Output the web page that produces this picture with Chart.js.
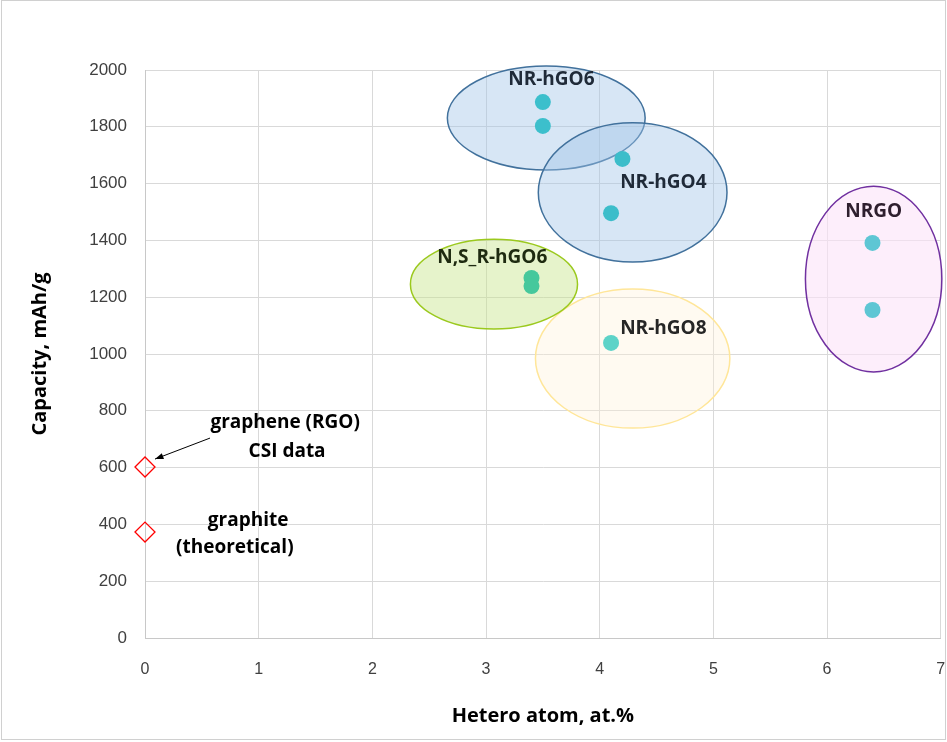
<!DOCTYPE html>
<html>
<head>
<meta charset="utf-8">
<script src="https://cdn.jsdelivr.net/npm/chart.js@4/dist/chart.umd.min.js"></script>
<style>
  html, body { margin: 0; padding: 0; background: #fff; overflow: hidden; }
  #wrap { width: 952px; height: 742px; position: relative; }
</style>
</head>
<body>
<div id="wrap"><canvas id="myChart"></canvas></div>
<script>
// hetero atom content (at.%) and capacity (mAh/g) per sample group
const hgo6X = [3.5, 3.5];
const hgo6Y = [1887, 1803];
const hgo4X = [4.2, 4.1];
const hgo4Y = [1687, 1496];
const nsX = [3.4, 3.4];
const nsY = [1268, 1239];
const hgo8X = [4.1];
const hgo8Y = [1039];
const nrgoX = [6.4, 6.4];
const nrgoY = [1391, 1155];
const refX = [0, 0];
const refY = [602, 373];

const xTicks = [0, 1, 2, 3, 4, 5, 6, 7];
const yTicks = [0, 200, 400, 600, 800, 1000, 1200, 1400, 1600, 1800, 2000];

// group ellipses: centre x, centre y, radius x, radius y (data units)
const ellipses = [
  { cx: 4.29, cy: 984, rx: 0.855, ry: 245, fill: 'rgba(255,242,214,0.35)', stroke: '#ffe699' },
  { cx: 3.07, cy: 1246, rx: 0.735, ry: 158, fill: 'rgba(200,228,140,0.45)', stroke: '#9bc91e' },
  { cx: 3.53, cy: 1831, rx: 0.87, ry: 183, fill: 'rgba(160,196,232,0.42)', stroke: '#41719c' },
  { cx: 4.29, cy: 1569, rx: 0.83, ry: 245, fill: 'rgba(160,196,232,0.42)', stroke: '#41719c' },
  { cx: 6.41, cy: 1264, rx: 0.60, ry: 327, fill: 'rgba(252,226,248,0.6)', stroke: '#7030a0' }
];

// text labels placed in data coordinates
const labels = [
  { text: 'NR-hGO6', x: 3.575, y: 1965, color: '#1f2a38' },
  { text: 'NR-hGO4', x: 4.56, y: 1602, color: '#1f2a38' },
  { text: 'N,S_R-hGO6', x: 3.055, y: 1338, color: '#1e2a10' },
  { text: 'NR-hGO8', x: 4.56, y: 1088, color: '#262626' },
  { text: 'NRGO', x: 6.41, y: 1503, color: '#2e1f2e' },
  { text: 'graphene (RGO)', x: 1.233, y: 757, color: '#000' },
  { text: 'CSI data', x: 1.25, y: 655, color: '#000' },
  { text: 'graphite', x: 0.907, y: 415, color: '#000' },
  { text: '(theoretical)', x: 0.79, y: 317, color: '#000' }
];
const arrowFrom = [0.572, 704];
const arrowTo = [0.088, 630];

const toPts = (xs, ys) => xs.map((x, i) => ({ x, y: ys[i] }));

const ellipsePlugin = {
  id: 'ellipses',
  beforeDatasetsDraw(chart) {
    const { ctx, scales: { x, y } } = chart;
    ctx.save();
    ellipses.forEach(e => {
      const cx = x.getPixelForValue(e.cx);
      const cy = y.getPixelForValue(e.cy);
      const rx = Math.abs(x.getPixelForValue(e.cx + e.rx) - cx);
      const ry = Math.abs(y.getPixelForValue(e.cy + e.ry) - cy);
      ctx.beginPath();
      ctx.ellipse(cx, cy, rx, ry, 0, 0, Math.PI * 2);
      ctx.fillStyle = e.fill;
      ctx.fill();
      ctx.lineWidth = 1.5;
      ctx.strokeStyle = e.stroke;
      ctx.stroke();
    });
    ctx.restore();
  },
  afterDatasetsDraw(chart) {
    const { ctx, scales: { x, y } } = chart;
    ctx.save();
    ctx.font = 'bold 19px "Open Sans", sans-serif';
    ctx.textAlign = 'center';
    ctx.textBaseline = 'middle';
    labels.forEach(l => {
      ctx.fillStyle = l.color;
      ctx.fillText(l.text, x.getPixelForValue(l.x), y.getPixelForValue(l.y));
    });
    // arrow
    const x1 = x.getPixelForValue(arrowFrom[0]), y1 = y.getPixelForValue(arrowFrom[1]);
    const x2 = x.getPixelForValue(arrowTo[0]), y2 = y.getPixelForValue(arrowTo[1]);
    ctx.strokeStyle = '#000';
    ctx.fillStyle = '#000';
    ctx.lineWidth = 1;
    ctx.beginPath();
    ctx.moveTo(x1, y1);
    ctx.lineTo(x2, y2);
    ctx.stroke();
    const a = Math.atan2(y2 - y1, x2 - x1);
    ctx.beginPath();
    ctx.moveTo(x2, y2);
    ctx.lineTo(x2 - 9 * Math.cos(a - 0.35), y2 - 9 * Math.sin(a - 0.35));
    ctx.lineTo(x2 - 9 * Math.cos(a + 0.35), y2 - 9 * Math.sin(a + 0.35));
    ctx.closePath();
    ctx.fill();
    ctx.restore();
  },
  afterDraw(chart) {
    const { ctx, height } = chart;
    ctx.save();
    ctx.strokeStyle = '#d0d0d0';
    ctx.lineWidth = 1;
    ctx.strokeRect(1.5, 0.5, 944, height - 3);
    ctx.restore();
  }
};

const ctx = document.getElementById('myChart');
new Chart(ctx, {
  type: 'scatter',
  data: {
    datasets: [
      { label: 'NR-hGO6', data: toPts(hgo6X, hgo6Y), backgroundColor: '#3cbfcc', borderWidth: 0, pointRadius: 8 },
      { label: 'NR-hGO4', data: toPts(hgo4X, hgo4Y), backgroundColor: '#3cbdca', borderWidth: 0, pointRadius: 8 },
      { label: 'N,S_R-hGO6', data: toPts(nsX, nsY), backgroundColor: '#46c89c', borderWidth: 0, pointRadius: 8 },
      { label: 'NR-hGO8', data: toPts(hgo8X, hgo8Y), backgroundColor: '#5dd3c8', borderWidth: 0, pointRadius: 8 },
      { label: 'NRGO', data: toPts(nrgoX, nrgoY), backgroundColor: '#5ec6d4', borderWidth: 0, pointRadius: 8 },
      { label: 'graphene / graphite', data: toPts(refX, refY), clip: false, pointStyle: 'rectRot', backgroundColor: 'rgba(255,255,255,0)', borderColor: '#ff0000', borderWidth: 1.3, pointRadius: 10 }
    ]
  },
  options: {
    responsive: true,
    maintainAspectRatio: false,
    animation: false,
    layout: { padding: { left: 24, top: 70, right: 0, bottom: 0 } },
    plugins: { legend: { display: false }, tooltip: { enabled: false } },
    scales: {
      x: {
        type: 'linear', min: 0, max: 7,
        afterFit: s => { s.height = 104; s.paddingLeft = 0; s.paddingRight = 0; },
        afterBuildTicks: s => { s.ticks = xTicks.map(v => ({ value: v })); },
        grid: { color: '#d9d9d9', drawTicks: false },
        border: { color: '#c8c8c8' },
        ticks: { padding: 22, color: '#404040', callback: v => String(v), font: { family: '"Liberation Sans Narrow", "Liberation Sans"', size: 16 } },
        title: { display: true, text: 'Hetero atom, at.%', color: '#000', padding: { top: 4, bottom: 14 }, font: { family: '"Open Sans"', size: 20, weight: 'bold' } }
      },
      y: {
        type: 'linear', min: 0, max: 2000,
        afterFit: s => { s.width = 121; s.paddingTop = 0; s.paddingBottom = 0; },
        afterBuildTicks: s => { s.ticks = yTicks.map(v => ({ value: v })); },
        grid: { color: '#d9d9d9', drawTicks: false },
        border: { color: '#c8c8c8' },
        ticks: { padding: 18, color: '#404040', callback: v => String(v), font: { family: '"Liberation Sans"', size: 17 } },
        title: { display: true, text: 'Capacity, mAh/g', color: '#000', padding: { bottom: 0 }, font: { family: '"Open Sans"', size: 20, weight: 'bold' } }
      }
    }
  },
  plugins: [ellipsePlugin]
});
</script>
</body>
</html>
